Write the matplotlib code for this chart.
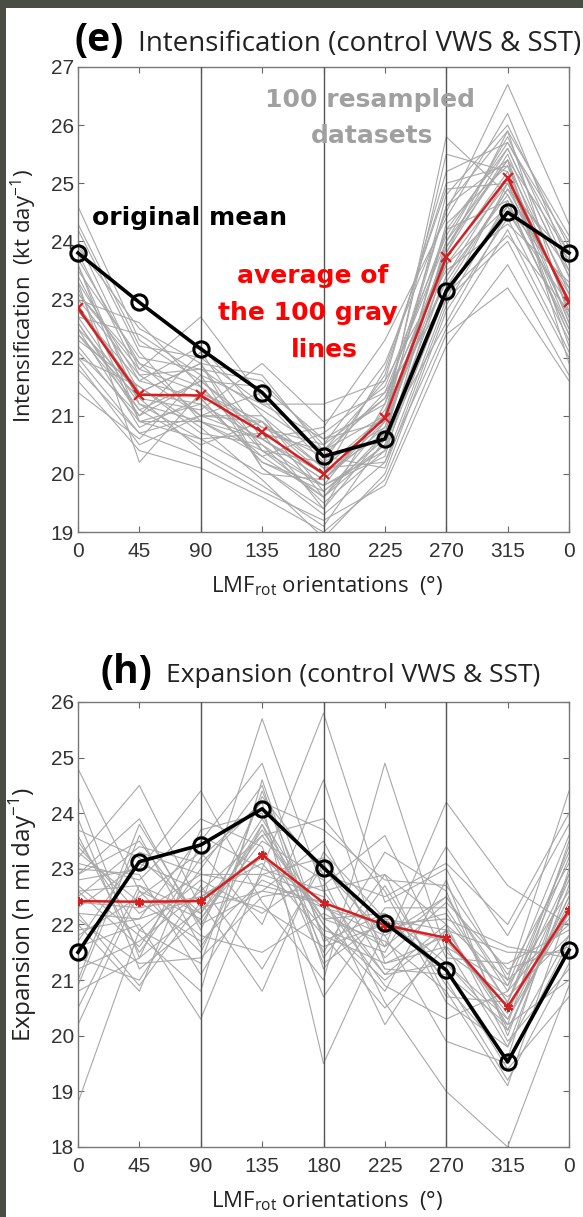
import matplotlib
matplotlib.use("Agg")
import matplotlib.pyplot as plt
from matplotlib.patches import Rectangle

# ---------------- data ----------------
angles = [0, 45, 90, 135, 180, 225, 270, 315, 360]
angle_labels = ["0", "45", "90", "135", "180", "225", "270", "315", "0"]

int_original = [23.8, 22.95, 22.15, 21.4, 20.3, 20.6, 23.15, 24.5, 23.8]
int_resampled_avg = [22.85, 21.36, 21.35, 20.72, 20.0, 20.96, 23.73, 25.09, 22.96]
int_gray = [
    [22.9, 21.4, 21.2, 20.6, 19.9, 20.8, 23.6, 25.0, 23.0],
    [23.5, 22.0, 21.8, 21.1, 20.4, 21.3, 24.2, 25.6, 23.4],
    [22.2, 20.9, 20.9, 20.3, 19.6, 20.5, 23.1, 24.6, 22.5],
    [24.6, 22.3, 21.6, 21.5, 20.6, 20.9, 24.8, 26.0, 23.9],
    [21.4, 20.6, 21.7, 20.1, 19.3, 20.2, 22.5, 24.2, 22.1],
    [23.1, 21.8, 22.7, 21.3, 20.2, 21.7, 25.0, 25.3, 23.2],
    [22.6, 21.1, 20.5, 20.9, 20.0, 20.7, 23.9, 25.4, 22.8],
    [23.9, 22.5, 21.9, 20.4, 19.8, 21.1, 23.3, 24.9, 23.7],
    [22.0, 21.5, 20.8, 19.9, 18.9, 20.0, 22.8, 24.4, 22.3],
    [23.3, 20.2, 21.4, 20.8, 20.5, 21.9, 24.5, 26.7, 24.3],
    [22.4, 21.3, 21.1, 21.9, 20.9, 21.4, 23.0, 24.0, 22.0],
    [23.7, 21.9, 21.5, 20.5, 19.5, 20.4, 24.0, 25.8, 23.5],
    [21.8, 20.7, 20.3, 19.7, 19.2, 19.8, 22.2, 23.6, 21.7],
    [22.8, 21.6, 22.2, 21.0, 20.1, 21.0, 25.5, 25.2, 22.9],
    [24.2, 22.1, 20.9, 20.6, 20.8, 22.3, 24.4, 26.2, 23.6],
    [22.5, 20.8, 21.3, 20.2, 19.7, 20.6, 23.4, 25.1, 22.6],
    [23.0, 21.7, 21.0, 21.4, 20.3, 20.1, 22.9, 24.7, 22.4],
    [22.1, 21.0, 21.6, 20.7, 19.4, 21.2, 23.8, 25.5, 23.1],
    [23.6, 21.2, 20.6, 20.0, 19.9, 20.9, 25.8, 24.8, 22.7],
    [22.7, 22.4, 21.7, 21.2, 21.2, 21.6, 23.5, 24.3, 23.3],
    [21.6, 20.4, 20.1, 19.6, 19.0, 19.9, 22.4, 23.2, 21.6],
    [23.4, 21.4, 21.9, 21.7, 20.4, 21.0, 24.6, 25.9, 24.1],
    [22.3, 21.5, 20.7, 20.5, 19.8, 20.3, 23.7, 25.2, 22.2],
    [23.2, 20.9, 21.2, 20.3, 20.7, 21.5, 24.1, 25.7, 23.8],
    [24.0, 21.8, 21.4, 20.9, 19.6, 20.7, 22.6, 24.5, 22.9],
    [22.6, 21.0, 22.1, 20.6, 20.0, 21.8, 24.9, 25.0, 22.5],
    [21.9, 20.5, 21.0, 21.0, 19.7, 20.5, 23.2, 24.9, 23.0],
    [23.0, 22.6, 21.5, 20.4, 20.2, 20.8, 23.9, 25.6, 23.4],
    [22.9, 21.3, 20.4, 19.8, 19.1, 20.6, 24.3, 25.3, 22.6],
    [23.8, 21.7, 21.8, 21.6, 20.5, 21.3, 23.6, 24.6, 23.2],
    [22.4, 21.1, 21.6, 20.8, 20.3, 21.4, 24.0, 25.4, 21.9],
    [23.3, 21.6, 21.3, 20.2, 19.8, 20.4, 23.1, 24.1, 22.8],
    [22.7, 21.2, 20.9, 20.4, 19.6, 20.9, 23.4, 24.8, 23.1],
    [24.3, 22.2, 22.0, 21.2, 20.6, 21.2, 24.6, 25.4, 23.8],
    [22.0, 20.7, 21.0, 20.6, 19.9, 21.0, 23.8, 25.9, 22.7],
    [23.1, 21.9, 21.0, 20.9, 20.1, 20.2, 23.0, 25.0, 23.5],
    [22.5, 21.4, 21.9, 20.1, 19.4, 20.7, 24.2, 24.7, 22.4],
    [23.6, 20.9, 20.6, 20.7, 20.4, 21.6, 25.2, 25.7, 24.0],
]

exp_original = [21.5, 23.13, 23.43, 24.08, 23.02, 22.03, 21.18, 19.53, 21.54]
exp_resampled_avg = [22.42, 22.41, 22.42, 23.25, 22.39, 21.99, 21.76, 20.52, 22.26]
exp_gray = [
    [22.4, 22.3, 22.5, 23.2, 22.3, 22.0, 21.7, 20.5, 22.2],
    [23.6, 21.5, 23.0, 24.5, 21.2, 22.7, 20.9, 19.6, 23.0],
    [21.0, 23.8, 22.0, 22.6, 23.5, 21.4, 22.4, 21.2, 21.6],
    [24.8, 22.6, 21.5, 23.8, 22.0, 20.8, 22.8, 20.0, 22.9],
    [22.0, 20.8, 23.5, 24.9, 21.7, 22.2, 21.0, 19.2, 21.3],
    [18.8, 21.9, 22.8, 22.2, 23.0, 21.8, 22.5, 20.9, 23.6],
    [23.2, 24.5, 22.3, 25.7, 22.6, 21.1, 21.3, 20.3, 22.5],
    [21.6, 22.0, 20.3, 23.0, 25.8, 22.4, 23.0, 21.0, 24.4],
    [22.8, 23.0, 24.4, 22.4, 21.0, 24.9, 21.5, 20.7, 21.8],
    [23.9, 21.2, 22.1, 23.5, 22.8, 20.6, 19.0, 18.0, 20.9],
    [20.5, 22.7, 21.8, 21.5, 22.2, 21.6, 24.2, 22.7, 22.0],
    [22.5, 23.4, 23.1, 24.2, 19.5, 21.9, 22.2, 20.6, 23.2],
    [21.2, 21.7, 22.6, 23.6, 23.9, 22.6, 20.6, 19.8, 22.7],
    [23.0, 22.9, 21.1, 22.9, 22.5, 20.2, 21.9, 21.5, 21.5],
    [24.3, 21.4, 23.7, 24.0, 21.5, 23.3, 22.6, 20.1, 22.4],
    [22.2, 20.9, 22.4, 20.8, 23.3, 22.1, 21.2, 19.4, 20.7],
    [20.9, 23.6, 21.6, 23.3, 21.9, 21.5, 23.4, 21.8, 23.8],
    [23.4, 22.2, 22.9, 22.7, 22.4, 20.9, 20.3, 20.8, 22.1],
    [22.7, 21.8, 20.8, 24.6, 21.4, 22.9, 22.0, 19.9, 21.2],
    [21.8, 22.5, 23.3, 22.0, 24.6, 21.3, 21.8, 20.4, 22.8],
    [23.7, 23.2, 22.2, 23.9, 22.1, 21.7, 20.8, 19.1, 22.3],
    [22.1, 21.3, 21.4, 22.5, 22.7, 23.6, 21.4, 21.3, 21.9],
    [23.1, 22.8, 23.9, 23.4, 20.7, 22.3, 22.3, 20.6, 23.4],
    [21.4, 21.0, 22.7, 21.2, 23.1, 21.2, 21.1, 20.2, 21.0],
    [22.9, 23.9, 21.9, 24.3, 22.9, 22.5, 23.1, 22.0, 24.0],
    [21.9, 22.1, 22.5, 23.1, 21.8, 20.5, 21.6, 20.9, 22.6],
    [23.3, 22.4, 21.7, 22.8, 22.3, 21.8, 19.9, 19.5, 21.7],
    [22.6, 21.6, 23.2, 24.2, 23.7, 22.8, 22.7, 21.1, 23.1],
    [20.2, 22.6, 22.1, 23.7, 22.0, 21.0, 21.9, 20.3, 22.2],
    [22.3, 23.1, 22.6, 22.3, 21.6, 22.0, 22.1, 21.6, 21.4],
    [22.6, 22.7, 22.2, 23.6, 22.1, 22.2, 21.3, 20.1, 22.5],
    [21.7, 23.3, 22.9, 22.9, 23.2, 21.6, 22.5, 20.8, 23.3],
    [23.5, 21.9, 21.3, 24.4, 21.8, 21.3, 21.6, 19.8, 21.8],
    [22.2, 22.1, 23.6, 23.0, 22.6, 22.9, 20.7, 20.6, 22.9],
    [20.8, 21.4, 22.3, 22.6, 22.4, 21.1, 22.0, 21.0, 22.0],
    [22.9, 23.5, 22.0, 23.8, 21.3, 22.1, 21.9, 20.2, 23.5],
]

# ---------------- figure ----------------
W, H = 583, 1217
fig = plt.figure(figsize=(W / 100, H / 100), dpi=100)
fig.patch.set_facecolor("#4a4d44")
fig.patches.append(Rectangle((6 / W, 0), 1 - 6 / W, 1 - 8 / H, transform=fig.transFigure,
                             facecolor="white", edgecolor="none", zorder=-10))

tick_font = ["Liberation Sans", "DejaVu Sans"]
label_font = ["Open Sans", "DejaVu Sans"]
anno_font = ["DejaVu Sans"]


def px_axes(left, top, right, bottom):
    return [left / W, 1 - bottom / H, (right - left) / W, (bottom - top) / H]


def make_panel(rect, top_px, bottom_px, gray, orig, avg, ymin, ymax, ylabel,
               ylabel_size, red_marker, ylab_center_px):
    ax = fig.add_axes(rect)
    hpx = bottom_px - top_px
    for g in gray:
        ax.plot(angles, g, color="#a8a8a8", lw=0.8, zorder=2)
    for v in (90, 180, 270):
        ax.axvline(v, color="#555555", lw=1.0, zorder=3)
    ax.plot(angles, avg, color="#d42020", lw=1.8, marker=red_marker, ms=6.5, mew=1.6, zorder=4)
    ax.plot(angles, orig, color="black", lw=2.6, marker="o", ms=11, mfc="none", mew=2.2,
            zorder=5, clip_on=False)
    ax.set_xlim(0, 360)
    ax.set_ylim(ymin, ymax)
    ax.set_xticks(angles)
    ax.set_xticklabels(angle_labels)
    ax.set_yticks(range(ymin, ymax + 1))
    ax.tick_params(direction="in", top=True, right=True, length=4, width=0.8,
                   color="#666666", labelsize=15)
    ax.tick_params(axis="x", pad=7)
    ax.tick_params(axis="y", pad=3)
    for lab in ax.get_xticklabels() + ax.get_yticklabels():
        lab.set_family(tick_font)
        lab.set_color("#333333")
    for s in ax.spines.values():
        s.set_color("#777777")
        s.set_linewidth(1.0)
    ax.set_ylabel(ylabel, fontsize=ylabel_size, family=label_font, color="#222222")
    ax.yaxis.set_label_coords((39 - 78) / 491, (bottom_px - ylab_center_px) / hpx)
    ax.set_xlabel(r"LMF$_\mathregular{rot}$ orientations  ($\mathregular{\degree}$)",
                  fontsize=16, family=label_font, color="#222222")
    ax.xaxis.set_label_coords((327 - 78) / 491, -42 / hpx)
    return ax


ax1 = make_panel(px_axes(78, 67, 569, 532), 67, 532, int_gray, int_original,
                 int_resampled_avg, 19, 27, r"Intensification  (kt day$^\mathregular{-1}$)",
                 16, "x", 296)
ax2 = make_panel(px_axes(78, 702, 569, 1147), 702, 1147, exp_gray, exp_original,
                 exp_resampled_avg, 18, 26, r"Expansion (n mi day$^\mathregular{-1}$)",
                 17.5, (6, 2, 0), 914)

# titles
fig.text(74 / W, 1 - 41 / H, "(e)", fontsize=28, fontweight="bold", family=label_font,
         ha="left", va="center", color="black")
fig.text(138 / W, 1 - 44 / H, "Intensification (control VWS & SST)", fontsize=20,
         family=label_font, ha="left", va="center", color="#222222")
fig.text(100 / W, 1 - 672 / H, "(h)", fontsize=28, fontweight="bold", family=label_font,
         ha="left", va="center", color="black")
fig.text(166 / W, 1 - 675 / H, "Expansion (control VWS & SST)", fontsize=19,
         family=label_font, ha="left", va="center", color="#222222")

# annotations (panel e)
fig.text(370 / W, 1 - 100 / H, "100 resampled", fontsize=18, fontweight="bold",
         family=anno_font, ha="center", va="center", color="#a0a0a0")
fig.text(372 / W, 1 - 136 / H, "datasets", fontsize=18, fontweight="bold",
         family=anno_font, ha="center", va="center", color="#a0a0a0")
fig.text(190 / W, 1 - 218 / H, "original mean", fontsize=18, fontweight="bold",
         family=anno_font, ha="center", va="center", color="black")
fig.text(313 / W, 1 - 276 / H, "average of", fontsize=18, fontweight="bold",
         family=anno_font, ha="center", va="center", color="#ff0000")
fig.text(308 / W, 1 - 313 / H, "the 100 gray", fontsize=18, fontweight="bold",
         family=anno_font, ha="center", va="center", color="#ff0000")
fig.text(324 / W, 1 - 350 / H, "lines", fontsize=18, fontweight="bold",
         family=anno_font, ha="center", va="center", color="#ff0000")

fig.savefig("out.png", dpi=100)
